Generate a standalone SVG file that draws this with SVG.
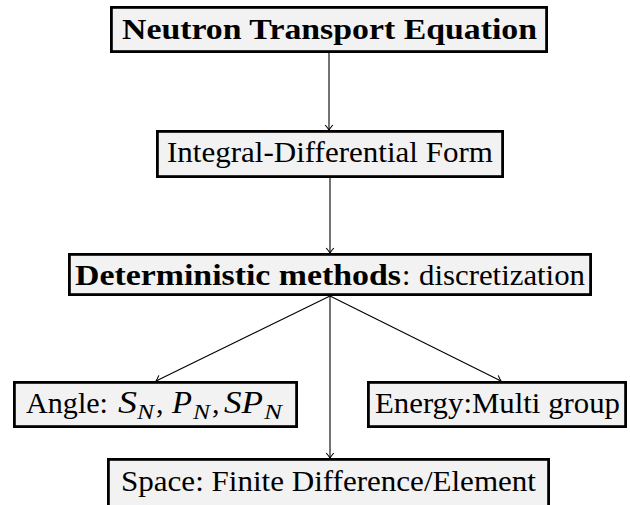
<svg xmlns="http://www.w3.org/2000/svg" width="630" height="505" viewBox="0 0 630 505">
<style>
.box{fill:#f2f2f2;stroke:#000;stroke-width:2.8}
.t{font-family:"Liberation Serif","Times New Roman",serif;font-size:30px;fill:#000}
.b{font-weight:bold}
.i{font-style:italic;font-size:31px}
.s{font-size:22px;font-style:italic}
.c{fill:none;stroke:#000;stroke-width:1.1}
</style>
<defs>
<marker id="ar" markerUnits="userSpaceOnUse" markerWidth="12" markerHeight="12" viewBox="-6 -6 12 12" refX="0" refY="0" orient="auto">
<path d="M-5,-3.8 Q-1.6,-0.9 0,0 Q-1.6,0.9 -5,3.8" fill="none" stroke="#000" stroke-width="1.1"/>
</marker>
</defs>
<g id="connectors">
<line class="c" x1="329" y1="53" x2="329" y2="130" marker-end="url(#ar)"/>
<line class="c" x1="330" y1="178" x2="330" y2="253" marker-end="url(#ar)"/>
<line class="c" x1="330" y1="296" x2="156" y2="381" marker-end="url(#ar)"/>
<line class="c" x1="330" y1="296" x2="501" y2="381" marker-end="url(#ar)"/>
<line class="c" x1="330" y1="296" x2="330" y2="458" marker-end="url(#ar)"/>
</g>
<g id="node-nte">
<rect class="box" x="111.4" y="7.4" width="435.2" height="44.2"/>
<text class="t b" x="122" y="38.5" textLength="415" lengthAdjust="spacingAndGlyphs">Neutron Transport Equation</text>
</g>
<g id="node-idf">
<rect class="box" x="157.4" y="131.4" width="345.2" height="45.2"/>
<text class="t" x="167" y="161.5" textLength="326" lengthAdjust="spacingAndGlyphs">Integral-Differential Form</text>
</g>
<g id="node-det">
<rect class="box" x="69.4" y="254.4" width="521.2" height="40.2"/>
<text class="t b" x="75" y="285" textLength="326" lengthAdjust="spacingAndGlyphs">Deterministic methods</text>
<text class="t" x="402" y="285">:</text>
<text class="t" x="419" y="285" textLength="166" lengthAdjust="spacingAndGlyphs">discretization</text>
</g>
<g id="node-angle">
<rect class="box" x="14.4" y="382.4" width="282.2" height="44.2"/>
<text class="t" x="26" y="412.5" textLength="82" lengthAdjust="spacingAndGlyphs">Angle:</text>
<text class="t i" x="118" y="412.5" textLength="19" lengthAdjust="spacingAndGlyphs">S</text>
<text class="t s" x="137" y="418.5" textLength="17" lengthAdjust="spacingAndGlyphs">N</text>
<text class="t" x="156" y="412.5">,</text>
<text class="t i" x="172" y="412.5" textLength="20" lengthAdjust="spacingAndGlyphs">P</text>
<text class="t s" x="193" y="418.5" textLength="17" lengthAdjust="spacingAndGlyphs">N</text>
<text class="t" x="212" y="412.5">,</text>
<text class="t i" x="224" y="412.5" textLength="39" lengthAdjust="spacingAndGlyphs">SP</text>
<text class="t s" x="264" y="418.5" textLength="18" lengthAdjust="spacingAndGlyphs">N</text>
</g>
<g id="node-energy">
<rect class="box" x="368.4" y="382.4" width="257.2" height="44.2"/>
<text class="t" x="375" y="412.5" textLength="245" lengthAdjust="spacingAndGlyphs">Energy:Multi group</text>
</g>
<g id="node-space">
<rect class="box" x="108.4" y="459.4" width="440.2" height="60"/>
<text class="t" x="121" y="490.5" textLength="415" lengthAdjust="spacingAndGlyphs">Space: Finite Difference/Element</text>
</g>
</svg>
